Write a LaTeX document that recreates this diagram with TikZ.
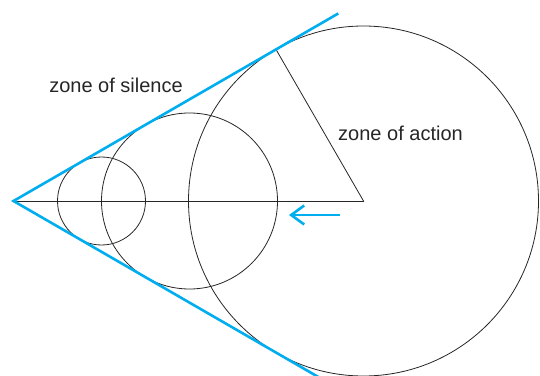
\documentclass[tikz,border=0pt]{standalone}
\usepackage{fontspec}
\setmainfont{Liberation Sans}
\usepackage{xcolor}
\usetikzlibrary{calc,arrows.meta}
\definecolor{zonecyan}{RGB}{0,174,239}

\begin{document}
\begin{tikzpicture}[x=1pt, y=1pt,
    ring/.style={line width=0.8pt, black!85},
    ray/.style={line width=2.6pt, zonecyan},
    zonelabel/.style={font=\fontsize{20}{24}\selectfont, text=black!85}]
  \useasboundingbox (0,0) rectangle (540,375);
  % vertice e centri dei tre cerchi
  \coordinate (apex) at (13.5,174);
  \coordinate (small) at (101.5,174);
  \coordinate (mid) at (189.5,174);
  \coordinate (big) at (363.5,174);
  \draw[ring] (small) circle (44);
  \draw[ring] (mid) circle (88);
  \draw[ring] (big) circle (175);
  % asse e raggio verso il punto di tangenza
  \coordinate (touch) at ($(apex)+(30:303.1)$);
  \draw[ring] (apex) -- (big);
  \draw[ring] (touch) -- (big);
  % le due tangenti
  \coordinate (upper) at ($(apex)+(30:375)$);
  \coordinate (lower) at ($(apex)+(-30:356)$);
  \draw[ray] (upper) -- (apex) -- (lower);
  % freccia
  \coordinate (arrowstart) at (340,160);
  \coordinate (arrowend) at (289,160);
  \draw[ray, -{Straight Barb[length=13pt,width=19pt]}] (arrowstart) -- (arrowend);
  \node[zonelabel] (silence) at (116,290) {zone of silence};
  \node[zonelabel] (action) at (400.5,242) {zone of action};
\end{tikzpicture}
\end{document}
